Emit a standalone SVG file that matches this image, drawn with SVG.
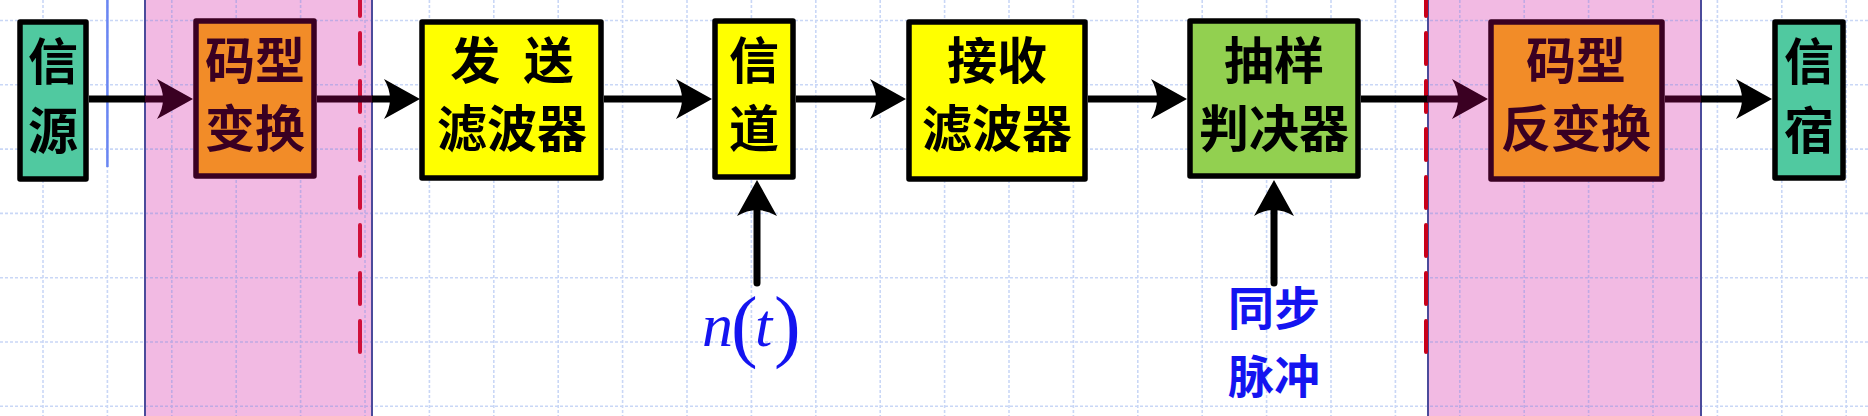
<svg xmlns="http://www.w3.org/2000/svg" width="1868" height="416" viewBox="0 0 1868 416">
<style>
.box{stroke:#000;stroke-width:5.5;stroke-linejoin:round}
.mbox{stroke:#3A0022;stroke-width:5.5;stroke-linejoin:round;fill:#F28C28}
.yel{fill:#FFFF00}
.teal{fill:#50C9A0}
.grn{fill:#92D050}
.lbl{font-family:"Noto Sans CJK SC","Noto Sans CJK TC",sans-serif;font-size:50px;font-weight:bold;text-anchor:middle;fill:#000}
.mlbl{fill:#3A0022}
.blue{font-family:"Noto Sans CJK SC",sans-serif;font-size:46px;font-weight:bold;text-anchor:middle;fill:#1414F0}
.math{font-family:"Liberation Serif","DejaVu Serif",serif;fill:#1414F0}
.ln{stroke:#000;stroke-width:7;fill:none}
.mln{stroke:#3A0022;stroke-width:7;fill:none}
.grid{stroke:rgba(100,140,230,0.35);stroke-width:1.6;stroke-dasharray:3 2;fill:none}
.zone{fill:#F2BAE3;stroke:#4B4B9B;stroke-width:2}
.red{stroke:#D0103A;stroke-width:4;stroke-dasharray:31 17;stroke-dashoffset:15;stroke-linecap:round;fill:none}
</style>
<defs>
<marker id="ah" markerUnits="userSpaceOnUse" viewBox="0 -22 40 44" markerWidth="40" markerHeight="44" refX="10" refY="0" orient="auto">
<path d="M36,0 L0,-20 Q12,0 0,20 Z" fill="#000"/>
</marker>
<marker id="ahm" markerUnits="userSpaceOnUse" viewBox="0 -22 40 44" markerWidth="40" markerHeight="44" refX="10" refY="0" orient="auto">
<path d="M36,0 L0,-20 Q12,0 0,20 Z" fill="#3A0022"/>
</marker>
</defs>
<rect x="0" y="0" width="1868" height="416" fill="#fff"/>
<g id="zones">
<rect class="zone" x="145" y="-5" width="227" height="430"/>
<rect class="zone" x="1428" y="-5" width="273" height="430"/>
</g>
<path class="grid" d="M0,20.5H1868M0,84.8H1868M0,149.1H1868M0,213.4H1868M0,277.7H1868M0,342H1868M0,406.3H1868M43,0V416M107.4,0V416M171.8,0V416M236.2,0V416M300.6,0V416M365,0V416M429.4,0V416M493.8,0V416M558.2,0V416M622.6,0V416M687,0V416M751.4,0V416M815.8,0V416M880.2,0V416M944.6,0V416M1009,0V416M1073.4,0V416M1137.8,0V416M1202.2,0V416M1266.6,0V416M1331,0V416M1395.4,0V416M1459.8,0V416M1524.2,0V416M1588.6,0V416M1653,0V416M1717.4,0V416M1781.8,0V416M1846.2,0V416"/>
<g id="guides">
<line x1="145" y1="0" x2="145" y2="416" stroke="#4B4B9B" stroke-width="2"/>
<line x1="372" y1="0" x2="372" y2="416" stroke="#4B4B9B" stroke-width="2"/>
<line x1="1428" y1="0" x2="1428" y2="416" stroke="#4B4B9B" stroke-width="2"/>
<line x1="1701" y1="0" x2="1701" y2="416" stroke="#4B4B9B" stroke-width="2"/>
<line class="red" x1="360" y1="0" x2="360" y2="353"/>
<line class="red" x1="1426" y1="0" x2="1426" y2="353" style="stroke:#C8001A"/>
<line x1="107.4" y1="0" x2="107.4" y2="167" stroke="#6A86F2" stroke-width="2.5"/>
</g>
<g id="connectors">
<line class="ln" x1="89" y1="99" x2="146" y2="99"/>
<line class="mln" x1="145" y1="99" x2="167" y2="99" marker-end="url(#ahm)"/>
<line class="mln" x1="317" y1="99" x2="373" y2="99"/>
<line class="ln" x1="372" y1="99" x2="394" y2="99" marker-end="url(#ah)"/>
<line class="ln" x1="604" y1="99" x2="686" y2="99" marker-end="url(#ah)"/>
<line class="ln" x1="796" y1="99" x2="880" y2="99" marker-end="url(#ah)"/>
<line class="ln" x1="1088" y1="99" x2="1161" y2="99" marker-end="url(#ah)"/>
<line class="ln" x1="1361" y1="99" x2="1428" y2="99"/>
<line class="mln" x1="1427" y1="99" x2="1462" y2="99" marker-end="url(#ahm)"/>
<line class="mln" x1="1665" y1="99" x2="1702" y2="99"/>
<line class="ln" x1="1701" y1="99" x2="1746" y2="99" marker-end="url(#ah)"/>
<line class="ln" x1="757" y1="283" x2="757" y2="206" stroke-linecap="round" marker-end="url(#ah)"/>
<line class="ln" x1="1274" y1="283" x2="1274" y2="206" stroke-linecap="round" marker-end="url(#ah)"/>
</g>
<g id="src">
<rect class="box teal" x="20" y="22" width="66" height="157"/>
<text class="lbl" x="53" y="80">信</text>
<text class="lbl" x="53" y="149">源</text>
</g>
<g id="enc">
<rect class="mbox" x="196" y="21" width="118" height="155"/>
<text class="lbl mlbl" x="255" y="79">码型</text>
<text class="lbl mlbl" x="255" y="147">变换</text>
</g>
<g id="txf">
<rect class="box yel" x="422" y="22" width="179" height="156"/>
<text class="lbl" x="512" y="79" word-spacing="12">发 送</text>
<text class="lbl" x="512" y="147">滤波器</text>
</g>
<g id="chan">
<rect class="box yel" x="715" y="21" width="78" height="156"/>
<text class="lbl" x="754" y="79">信</text>
<text class="lbl" x="754" y="147">道</text>
</g>
<g id="rxf">
<rect class="box yel" x="909" y="22" width="176" height="157"/>
<text class="lbl" x="997" y="79">接收</text>
<text class="lbl" x="997" y="147">滤波器</text>
</g>
<g id="dec">
<rect class="box grn" x="1190" y="21" width="168" height="155"/>
<text class="lbl" x="1274" y="79">抽样</text>
<text class="lbl" x="1274" y="147">判决器</text>
</g>
<g id="idec">
<rect class="mbox" x="1491" y="22" width="171" height="157"/>
<text class="lbl mlbl" x="1576" y="79">码型</text>
<text class="lbl mlbl" x="1576" y="147">反变换</text>
</g>
<g id="sink">
<rect class="box teal" x="1775" y="22" width="68" height="156"/>
<text class="lbl" x="1809" y="80">信</text>
<text class="lbl" x="1809" y="149">宿</text>
</g>
<g id="noise">
<text class="math" y="346"><tspan x="702" font-size="62" font-style="italic">n</tspan><tspan x="731" y="352" font-size="80">(</tspan><tspan x="755" y="346" font-size="62" font-style="italic">t</tspan><tspan x="774" y="352" font-size="80">)</tspan></text>
</g>
<g id="sync">
<text class="blue" x="1274" y="325">同步</text>
<text class="blue" x="1274" y="393">脉冲</text>
</g>
</svg>
